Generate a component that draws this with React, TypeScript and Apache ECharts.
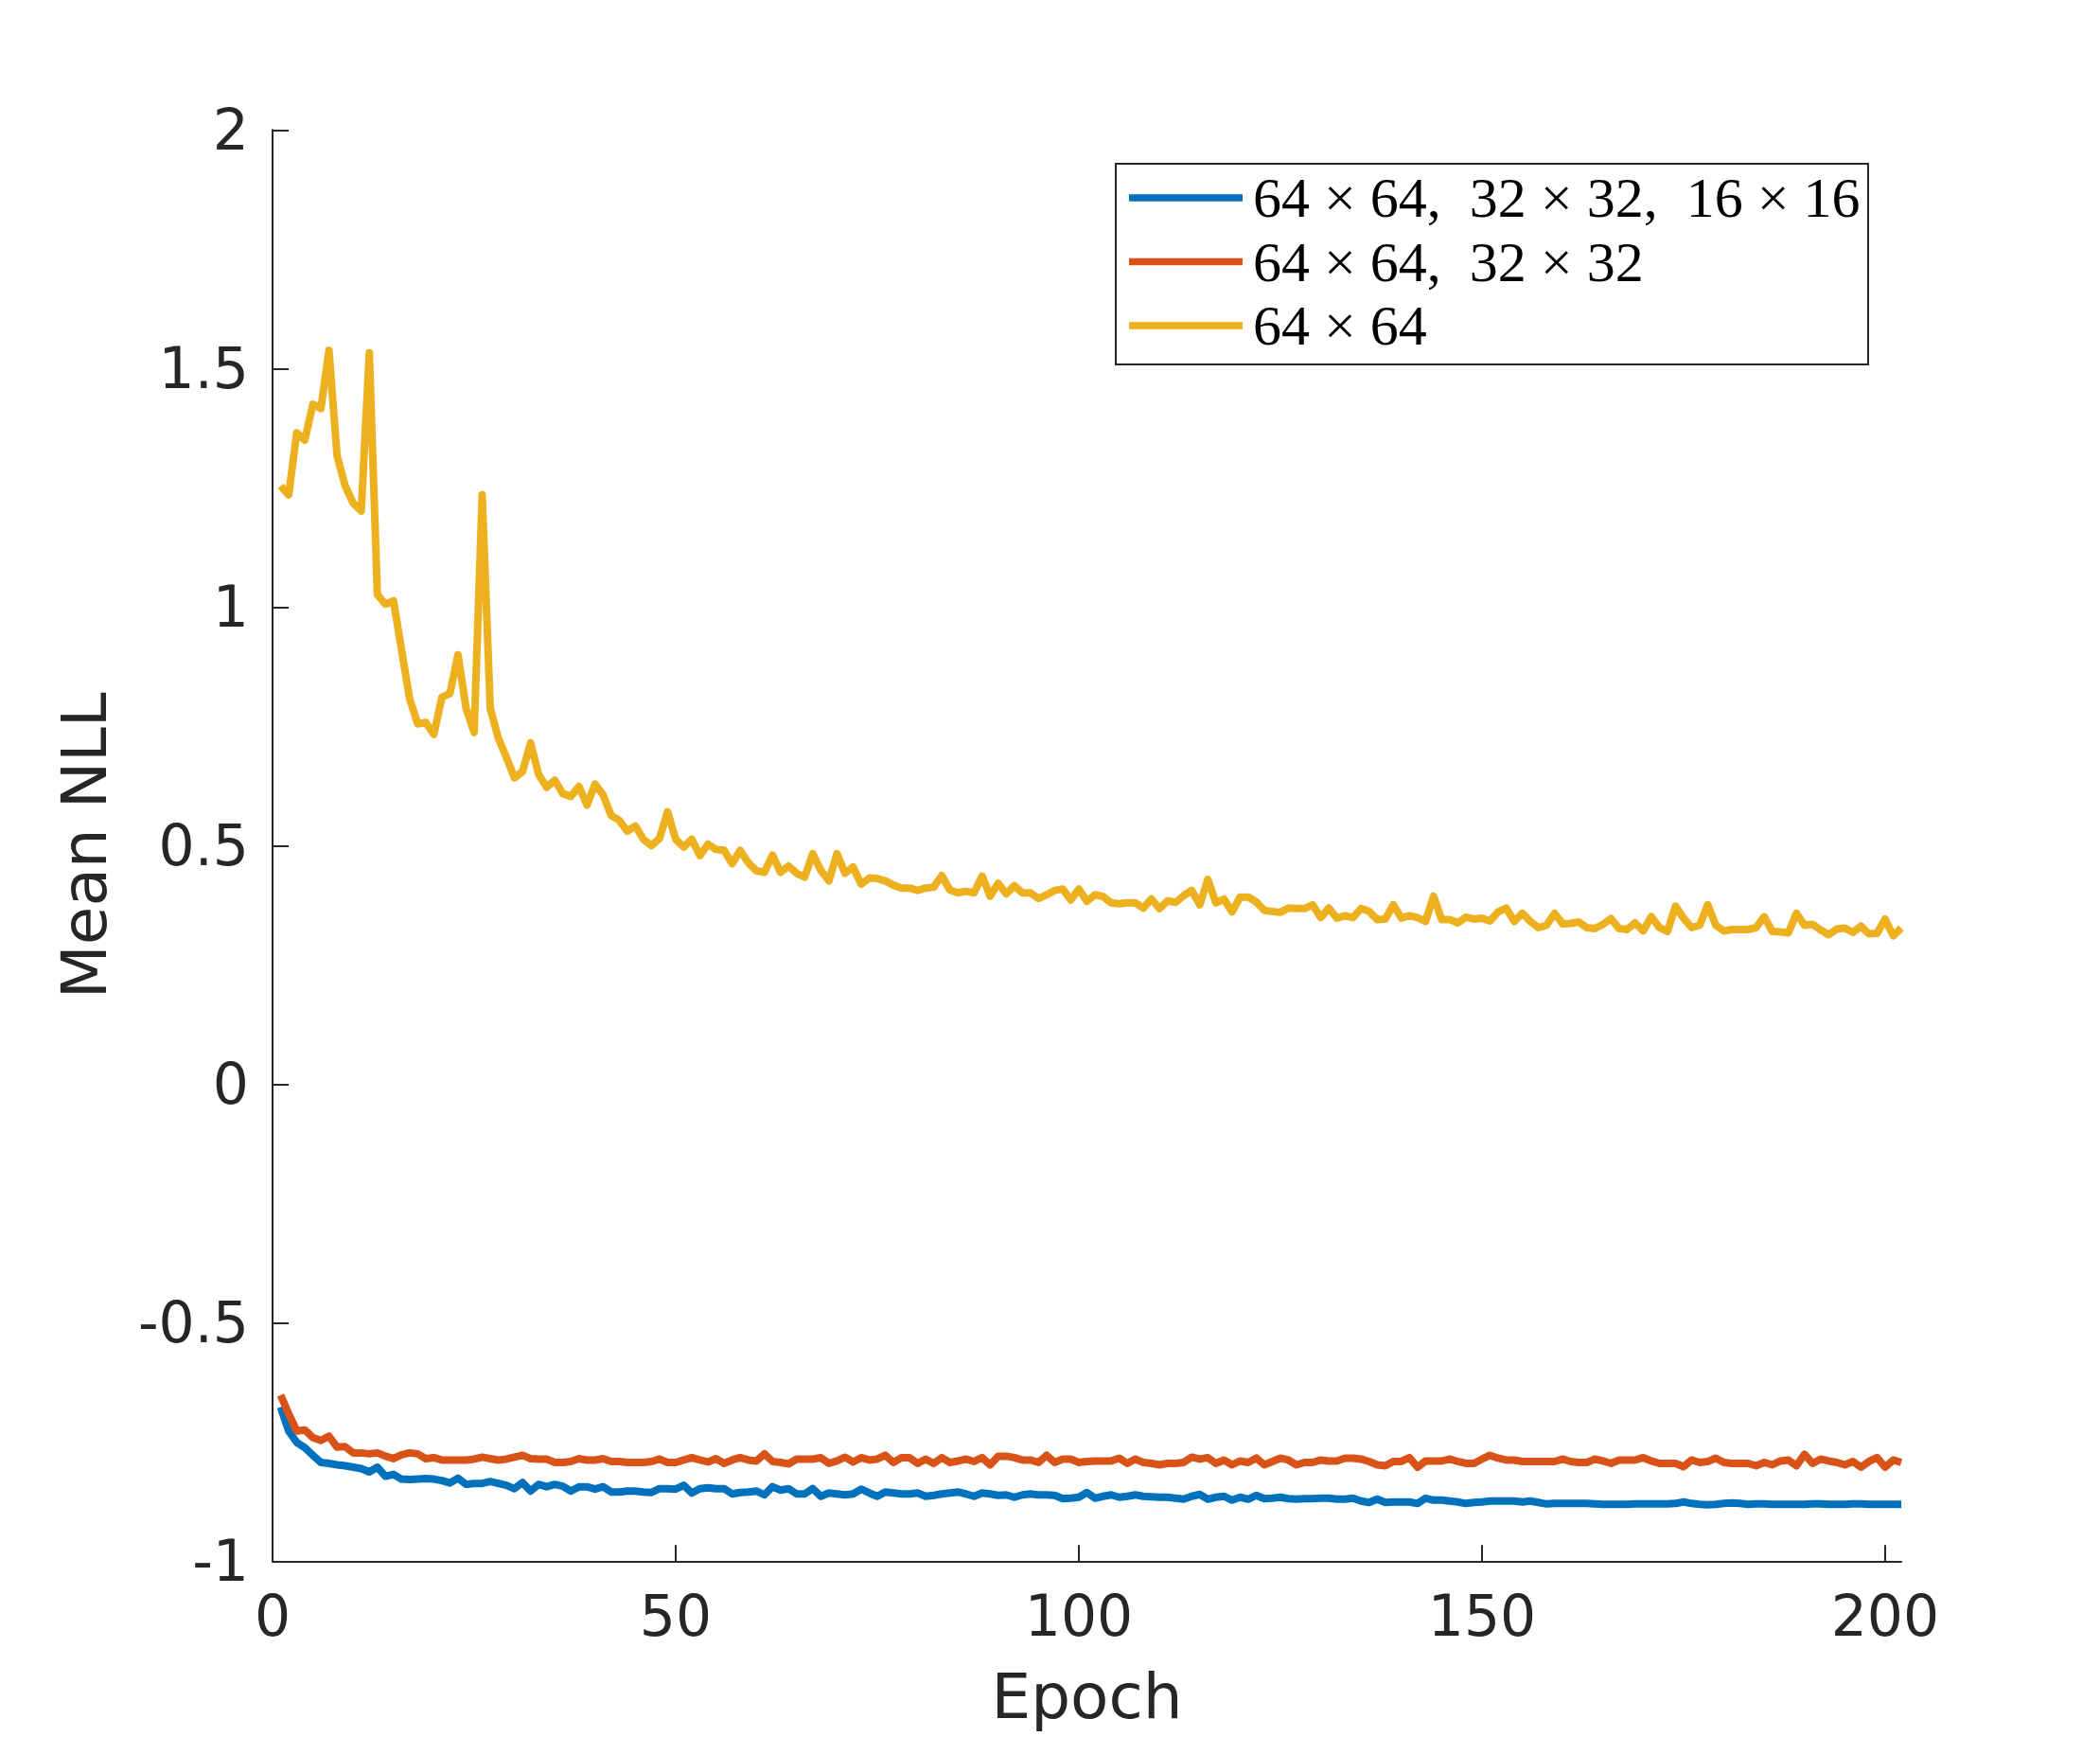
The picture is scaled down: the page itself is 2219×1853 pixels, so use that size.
import React, { useEffect, useRef } from "react";
import * as echarts from "echarts";

const epochs: number[] = Array.from({ length: 202 }, (_, i) => i + 1);

const seriesNames = [
  "64 × 64,  32 × 32,  16 × 16",
  "64 × 64,  32 × 32",
  "64 × 64",
];

const blueValues: number[] = [
  -0.677, -0.727, -0.751, -0.762, -0.778, -0.793, -0.795, -0.798, -0.800, -0.803,
  -0.806, -0.813, -0.803, -0.822, -0.818, -0.828, -0.829, -0.828, -0.827, -0.828,
  -0.831, -0.836, -0.826, -0.839, -0.837, -0.837, -0.833, -0.837, -0.841, -0.848,
  -0.835, -0.853, -0.839, -0.844, -0.839, -0.843, -0.853, -0.844, -0.844, -0.849,
  -0.844, -0.855, -0.855, -0.853, -0.853, -0.855, -0.856, -0.848, -0.848, -0.849,
  -0.841, -0.857, -0.848, -0.846, -0.848, -0.848, -0.859, -0.856, -0.855, -0.853,
  -0.861, -0.844, -0.851, -0.848, -0.859, -0.859, -0.848, -0.864, -0.857, -0.859,
  -0.861, -0.859, -0.849, -0.857, -0.864, -0.855, -0.857, -0.859, -0.859, -0.857,
  -0.864, -0.862, -0.859, -0.857, -0.855, -0.859, -0.864, -0.857, -0.859, -0.862,
  -0.861, -0.866, -0.861, -0.859, -0.861, -0.861, -0.862, -0.869, -0.868, -0.866,
  -0.856, -0.868, -0.864, -0.861, -0.866, -0.864, -0.861, -0.864, -0.865, -0.866,
  -0.866, -0.868, -0.870, -0.864, -0.860, -0.870, -0.866, -0.864, -0.872, -0.866,
  -0.870, -0.862, -0.869, -0.868, -0.866, -0.869, -0.870, -0.869, -0.869, -0.868,
  -0.868, -0.870, -0.870, -0.868, -0.874, -0.877, -0.870, -0.877, -0.876, -0.876,
  -0.876, -0.879, -0.868, -0.872, -0.872, -0.874, -0.876, -0.879, -0.877, -0.876,
  -0.874, -0.874, -0.874, -0.874, -0.876, -0.874, -0.877, -0.880, -0.879, -0.879,
  -0.879, -0.879, -0.879, -0.880, -0.881, -0.881, -0.881, -0.881, -0.880, -0.880,
  -0.880, -0.880, -0.880, -0.879, -0.876, -0.879, -0.881, -0.882, -0.881, -0.879,
  -0.878, -0.879, -0.881, -0.880, -0.880, -0.881, -0.881, -0.881, -0.881, -0.881,
  -0.880, -0.880, -0.881, -0.881, -0.881, -0.880, -0.880, -0.881, -0.881, -0.881,
  -0.881, -0.881,
];

const redValues: number[] = [
  -0.652, -0.691, -0.727, -0.725, -0.741, -0.747, -0.738, -0.761, -0.760, -0.773,
  -0.773, -0.775, -0.773, -0.780, -0.785, -0.777, -0.773, -0.775, -0.785, -0.783,
  -0.788, -0.788, -0.788, -0.788, -0.786, -0.782, -0.785, -0.788, -0.786, -0.782,
  -0.778, -0.785, -0.786, -0.786, -0.793, -0.793, -0.791, -0.785, -0.788, -0.788,
  -0.785, -0.791, -0.791, -0.793, -0.793, -0.793, -0.791, -0.786, -0.793, -0.793,
  -0.788, -0.783, -0.788, -0.792, -0.785, -0.795, -0.788, -0.783, -0.788, -0.790,
  -0.775, -0.791, -0.793, -0.796, -0.786, -0.786, -0.786, -0.783, -0.795, -0.790,
  -0.782, -0.792, -0.783, -0.788, -0.786, -0.778, -0.793, -0.783, -0.783, -0.795,
  -0.786, -0.795, -0.783, -0.793, -0.790, -0.786, -0.791, -0.783, -0.798, -0.780,
  -0.780, -0.783, -0.788, -0.788, -0.793, -0.778, -0.793, -0.786, -0.786, -0.793,
  -0.791, -0.790, -0.790, -0.790, -0.784, -0.795, -0.786, -0.793, -0.795, -0.798,
  -0.795, -0.795, -0.793, -0.782, -0.786, -0.783, -0.795, -0.788, -0.798, -0.790,
  -0.793, -0.784, -0.798, -0.791, -0.784, -0.788, -0.798, -0.793, -0.793, -0.788,
  -0.790, -0.790, -0.784, -0.784, -0.786, -0.791, -0.798, -0.800, -0.791, -0.791,
  -0.783, -0.803, -0.790, -0.790, -0.790, -0.786, -0.791, -0.795, -0.795, -0.786,
  -0.778, -0.784, -0.788, -0.788, -0.791, -0.791, -0.791, -0.791, -0.791, -0.786,
  -0.791, -0.793, -0.793, -0.786, -0.790, -0.795, -0.788, -0.788, -0.788, -0.783,
  -0.790, -0.795, -0.795, -0.795, -0.802, -0.788, -0.793, -0.791, -0.784, -0.793,
  -0.795, -0.795, -0.795, -0.800, -0.793, -0.798, -0.790, -0.788, -0.800, -0.776,
  -0.795, -0.786, -0.790, -0.793, -0.798, -0.791, -0.803, -0.791, -0.783, -0.803,
  -0.788, -0.793,
];

const yellowValues: number[] = [
  1.254, 1.235, 1.365, 1.350, 1.425, 1.416, 1.538, 1.317, 1.254, 1.218,
  1.201, 1.533, 1.026, 1.006, 1.013, 0.910, 0.808, 0.755, 0.758, 0.733,
  0.811, 0.819, 0.900, 0.788, 0.737, 1.235, 0.788, 0.725, 0.685, 0.642,
  0.655, 0.715, 0.649, 0.622, 0.637, 0.609, 0.603, 0.624, 0.585, 0.629,
  0.606, 0.563, 0.553, 0.530, 0.541, 0.513, 0.500, 0.515, 0.571, 0.513,
  0.497, 0.513, 0.479, 0.503, 0.492, 0.490, 0.462, 0.490, 0.464, 0.447,
  0.444, 0.480, 0.444, 0.457, 0.442, 0.434, 0.483, 0.448, 0.426, 0.483,
  0.442, 0.455, 0.419, 0.432, 0.431, 0.426, 0.417, 0.411, 0.411, 0.406,
  0.411, 0.413, 0.437, 0.407, 0.401, 0.404, 0.401, 0.436, 0.394, 0.421,
  0.399, 0.416, 0.401, 0.401, 0.389, 0.397, 0.406, 0.409, 0.386, 0.409,
  0.383, 0.397, 0.393, 0.380, 0.378, 0.380, 0.380, 0.369, 0.388, 0.368,
  0.384, 0.381, 0.395, 0.406, 0.376, 0.429, 0.380, 0.388, 0.361, 0.392,
  0.392, 0.382, 0.364, 0.362, 0.360, 0.369, 0.368, 0.368, 0.376, 0.349,
  0.369, 0.348, 0.353, 0.349, 0.368, 0.362, 0.345, 0.346, 0.376, 0.348,
  0.353, 0.349, 0.341, 0.394, 0.345, 0.345, 0.338, 0.350, 0.346, 0.348,
  0.342, 0.361, 0.369, 0.341, 0.358, 0.341, 0.328, 0.333, 0.358, 0.336,
  0.337, 0.340, 0.328, 0.326, 0.335, 0.347, 0.326, 0.324, 0.338, 0.321,
  0.351, 0.328, 0.320, 0.373, 0.348, 0.328, 0.333, 0.376, 0.333, 0.321,
  0.324, 0.324, 0.324, 0.328, 0.351, 0.320, 0.319, 0.317, 0.358, 0.333,
  0.335, 0.323, 0.313, 0.325, 0.327, 0.318, 0.331, 0.315, 0.316, 0.346,
  0.311, 0.327,
];

const xTickValues = [0, 50, 100, 150, 200];
const colors = ["#0072BD", "#D95319", "#EDB120"];

export default function App() {
  const ref = useRef<HTMLDivElement>(null);

  useEffect(() => {
    document.body.style.margin = "0";
    if (!ref.current) return;
    const chart = echarts.init(ref.current, null, { renderer: "svg" });
    const axisColor = "#262626";
    const sans = "DejaVu Sans";
    const toPairs = (vals: number[]) => epochs.map((e, i) => [e, vals[i]]);
    const allValues = [blueValues, redValues, yellowValues];

    chart.setOption({
      animation: false,
      backgroundColor: "#ffffff",
      grid: { left: 288, right: 210, top: 137.3, bottom: 203.7 },
      xAxis: {
        type: "value",
        min: 0,
        max: 202,
        interval: 50,
        name: "Epoch",
        nameLocation: "middle",
        nameGap: 110,
        nameTextStyle: { fontSize: 66, color: axisColor, fontFamily: sans },
        axisLine: { show: true, onZero: false, lineStyle: { color: axisColor, width: 2 } },
        axisTick: {
          show: true,
          inside: true,
          length: 17,
          customValues: xTickValues,
          lineStyle: { color: axisColor, width: 2 },
        },
        axisLabel: {
          customValues: xTickValues,
          fontSize: 60,
          color: axisColor,
          fontFamily: sans,
          margin: 28,
        },
        splitLine: { show: false },
      },
      yAxis: {
        type: "value",
        min: -1,
        max: 2,
        interval: 0.5,
        name: "Mean NLL",
        nameLocation: "middle",
        nameGap: 166,
        nameRotate: 90,
        nameTextStyle: { fontSize: 66, color: axisColor, fontFamily: sans },
        axisLine: { show: true, onZero: false, lineStyle: { color: axisColor, width: 2 } },
        axisTick: { show: true, inside: true, length: 17, lineStyle: { color: axisColor, width: 2 } },
        axisLabel: { fontSize: 60, color: axisColor, fontFamily: sans, margin: 25 },
        splitLine: { show: false },
      },
      legend: {
        orient: "vertical",
        left: 1193,
        top: 179,
        padding: 0,
        itemGap: 7.5,
        itemWidth: 120,
        itemHeight: 7.5,
        icon: "rect",
        textStyle: {
          fontFamily: "Liberation Serif",
          fontSize: 60,
          lineHeight: 60,
          color: "#000000",
          padding: [0, 0, 0, 6],
        },
        data: seriesNames,
      },
      graphic: [
        {
          type: "rect",
          shape: { x: 1179, y: 173, width: 795, height: 212 },
          style: { fill: "none", stroke: axisColor, lineWidth: 2 },
          z: 100,
        },
      ],
      series: seriesNames.map((name, k) => ({
        name,
        type: "line",
        data: toPairs(allValues[k]),
        showSymbol: false,
        symbol: "none",
        color: colors[k],
        lineStyle: { color: colors[k], width: 8, join: "round" },
        z: 2 + k,
      })),
    });

    return () => chart.dispose();
  }, []);

  return <div ref={ref} style={{ width: "2219px", height: "1853px" }} />;
}
